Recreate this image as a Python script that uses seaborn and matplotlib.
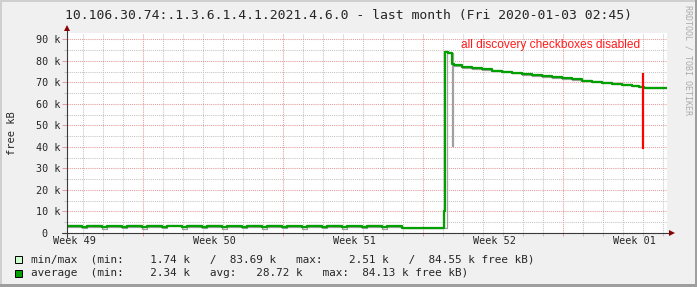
import numpy as np
import pandas as pd
import matplotlib
matplotlib.use("Agg")
import matplotlib.pyplot as plt
import matplotlib.transforms as mtransforms
import seaborn as sns
from matplotlib.patches import Rectangle

# ---------------- data (time in days from left edge, values in k free kB) -------------
t_days = [0.0, 0.75, 1.0, 1.75, 2.0, 2.75, 3.0, 3.75, 4.0, 4.75, 5.0, 5.75, 6.0, 6.75,
          7.0, 7.75, 8.0, 8.75, 9.0, 9.75, 10.0, 10.75, 11.0, 11.75, 12.0, 12.75, 13.0,
          13.75, 14.0, 14.75, 15.0, 15.75, 16.0, 16.75,
          18.85, 18.92, 18.98, 19.07, 19.23, 19.28, 19.35, 19.73, 20.25, 20.75, 21.25,
          21.75, 22.25, 22.75, 23.25, 23.75, 24.25, 24.75, 25.25, 25.75, 26.25, 26.75,
          27.25, 27.75, 28.25, 28.6, 28.85, 30.0]

avg_k = [3.3, 2.6, 3.3, 2.6, 3.2, 2.7, 3.3, 2.6, 3.3, 2.7, 3.4, 2.6, 3.3, 2.7,
         3.3, 2.6, 3.2, 2.7, 3.3, 2.6, 3.3, 2.7, 3.2, 2.6, 3.3, 2.7, 3.3,
         2.6, 3.2, 2.7, 3.3, 2.6, 3.2, 2.34,
         10.4, 84.1, 84.1, 83.7, 78.7, 78.7, 77.9, 77.1, 76.6, 76.1, 75.5,
         75.0, 74.4, 73.9, 73.4, 72.9, 72.4, 71.9, 71.4, 70.9, 70.4, 69.9,
         69.4, 69.0, 68.5, 68.0, 67.5, 67.5]

min_k = [3.0, 2.1, 3.0, 2.0, 2.9, 2.2, 3.0, 2.0, 3.0, 2.1, 3.1, 1.9, 3.0, 2.2,
         3.0, 2.0, 2.9, 2.1, 3.0, 1.74, 3.0, 2.2, 2.9, 2.0, 3.0, 2.1, 3.0,
         2.0, 2.9, 2.2, 3.0, 2.0, 2.9, 2.1,
         2.1, 2.1, 83.6, 83.5, 40.4, 78.5, 77.7, 76.9, 76.4, 75.9, 75.3,
         74.8, 74.2, 73.7, 73.2, 72.7, 72.2, 71.7, 71.2, 70.7, 70.2, 69.7,
         69.2, 68.8, 68.3, 67.8, 67.3, 67.3]

max_k = [3.5, 3.0, 3.5, 3.0, 3.4, 3.1, 3.5, 3.0, 3.5, 3.1, 3.6, 3.0, 3.5, 3.1,
         3.5, 3.0, 3.4, 3.1, 3.5, 3.0, 3.5, 3.1, 3.4, 3.0, 3.5, 3.1, 3.5,
         3.0, 3.4, 3.1, 3.5, 3.0, 3.4, 2.51,
         84.55, 84.5, 84.4, 84.0, 83.8, 78.9, 78.1, 77.3, 76.8, 76.3, 75.7,
         75.2, 74.6, 74.1, 73.6, 73.1, 72.6, 72.1, 71.6, 71.1, 70.6, 70.1,
         69.6, 69.2, 68.7, 68.2, 67.7, 67.7]

marker_day = 28.82
marker_low_k = 39.2
marker_high_k = 74.4
note_text = "all discovery checkboxes disabled"

y_ticks_k = [0, 10, 20, 30, 40, 50, 60, 70, 80, 90]
week_labels = ["Week 49", "Week 50", "Week 51", "Week 52", "Week 01"]
week_label_days = [0.35, 7.35, 14.35, 21.35, 28.35]
week_start_days = [3.8, 10.8, 17.8, 24.8]

title = "10.106.30.74:.1.3.6.1.4.1.2021.4.6.0 - last month (Fri 2020-01-03 02:45)"
legend_line1 = "min/max  (min:    1.74 k   /  83.69 k   max:    2.51 k   /  84.55 k free kB)"
legend_line2 = "average  (min:    2.34 k   avg:   28.72 k   max:  84.13 k free kB)"

# ---------------- style ----------------
sns.set_theme(style="white")
plt.rcParams["font.family"] = ["DejaVu Sans Mono"]

BACK = "#F0F0F0"
MGRID = "#E49A9A"
GRID = "#C4C4C4"
AVG = "#00A000"
MM = "#A0A0A0"
AXFS = 7.3
LEGFS = 7.92

W, H = 697, 287
fig = plt.figure(figsize=(W / 100, H / 100), dpi=100, facecolor=BACK)
ax = fig.add_axes([67 / W, 1 - 233 / H, 600 / W, 200 / H])
ax.set_facecolor("white")

df = pd.DataFrame({"day": t_days, "avg": avg_k, "min": min_k, "max": max_k})

sns.lineplot(data=df, x="day", y="min", ax=ax, color=MM, lw=0.9,
             drawstyle="steps-post", estimator=None, sort=False, zorder=3)
sns.lineplot(data=df, x="day", y="max", ax=ax, color=MM, lw=0.9,
             drawstyle="steps-post", estimator=None, sort=False, zorder=3)
sns.lineplot(data=df, x="day", y="avg", ax=ax, color=AVG, lw=1.6,
             drawstyle="steps-post", estimator=None, sort=False, zorder=4)

ax.vlines(marker_day, marker_low_k, marker_high_k, color="#FF0000", lw=1.6, zorder=5)
ax.text(28.65, 85.8, note_text, ha="right", va="baseline", color="#FF1A1A",
        fontsize=8.6, family=["Liberation Sans"], zorder=6)

ax.set_xlim(0, 30)
ax.set_ylim(0, 93)
ax.set_xlabel("")
ax.set_ylabel("")
for s in ax.spines.values():
    s.set_visible(False)

ax.set_yticks(y_ticks_k)
ax.set_yticklabels(["0"] + [f"{v} k" for v in y_ticks_k[1:]])
ax.set_yticks(np.arange(5, 93, 10), minor=True)
ax.set_xticks(week_start_days)
ax.set_xticklabels([])
ax.set_xticks(np.arange(0.8, 30, 1.0), minor=True)

ax.grid(which="major", color=MGRID, ls=(0, (1, 1)), lw=0.75, zorder=1)
ax.grid(which="minor", color=GRID, ls=(0, (1, 1)), lw=0.75, zorder=1)
ax.set_axisbelow(True)

ax.tick_params(axis="y", which="major", length=3.5, width=0.7, color=MGRID,
               pad=1.5, labelsize=AXFS, left=True)
ax.tick_params(axis="y", which="minor", length=2.2, width=0.7, color=GRID, left=True)
ax.tick_params(axis="x", which="major", length=2.0, width=0.7, color=MGRID, bottom=True)
ax.tick_params(axis="x", which="minor", length=2.0, width=0.7, color=GRID, bottom=True)

# "0" label sits where the digits of "10 k" are (unit column left blank)
zero_lbl = ax.get_yticklabels()[0]
shift = mtransforms.ScaledTranslation(-2 * 0.602 * AXFS / 72, 0, fig.dpi_scale_trans)
zero_lbl.set_transform(zero_lbl.get_transform() + shift)

for lab, d in zip(week_labels, week_label_days):
    ax.annotate(lab, xy=(d, 0), xycoords=("data", "axes fraction"),
                xytext=(0, -2.5), textcoords="offset points",
                ha="center", va="top", fontsize=AXFS)

# axis lines with arrows
ax.plot([0, 0], [-0.02, 1.02], transform=ax.transAxes, color="#3A3A3A", lw=0.8,
        clip_on=False, zorder=7)
ax.plot([-0.008, 1.006], [0, 0], transform=ax.transAxes, color="#3A3A3A", lw=0.8,
        clip_on=False, zorder=7)
ax.plot([0], [1.025], marker="^", ms=4.2, color="#8B0000", transform=ax.transAxes,
        clip_on=False, zorder=8, mew=0)
ax.plot([1.008], [0], marker=">", ms=4.2, color="#8B0000", transform=ax.transAxes,
        clip_on=False, zorder=8, mew=0)

# texts
fig.text(0.5, 1 - 19 / H, title, ha="center", va="baseline", fontsize=9.45)
fig.text(12 / W, 1 - 133 / H, "free kB", rotation=90, ha="center", va="center",
         fontsize=7.5)
fig.text(688 / W, 1 - 60 / H, "RRDTOOL / TOBI OETIKER", rotation=270, ha="center",
         va="center", fontsize=6, color="#ABABAB")

# legend
fig.add_artist(Rectangle((15 / W, 1 - 263 / H), 7 / W, 7 / H, transform=fig.transFigure,
                         facecolor="#CCFFCC", edgecolor="black", lw=0.7))
fig.add_artist(Rectangle((15 / W, 1 - 276.5 / H), 7 / W, 7 / H, transform=fig.transFigure,
                         facecolor=AVG, edgecolor="black", lw=0.7))
fig.text(31 / W, 1 - 263 / H, legend_line1, ha="left", va="baseline", fontsize=LEGFS)
fig.text(31 / W, 1 - 276.5 / H, legend_line2, ha="left", va="baseline", fontsize=LEGFS)

# 3D frame
fig.add_artist(Rectangle((0, 1 - 2 / H), 1, 2 / H, transform=fig.transFigure,
                         facecolor="#CFCFCF", edgecolor="none"))
fig.add_artist(Rectangle((0, 0), 2 / W, 1, transform=fig.transFigure,
                         facecolor="#CFCFCF", edgecolor="none"))
fig.add_artist(Rectangle((0, 0), 1, 3 / H, transform=fig.transFigure,
                         facecolor="#9E9E9E", edgecolor="none"))
fig.add_artist(Rectangle((1 - 2 / W, 0), 2 / W, 1, transform=fig.transFigure,
                         facecolor="#9E9E9E", edgecolor="none"))

fig.savefig("out.png", dpi=100, facecolor=fig.get_facecolor())
